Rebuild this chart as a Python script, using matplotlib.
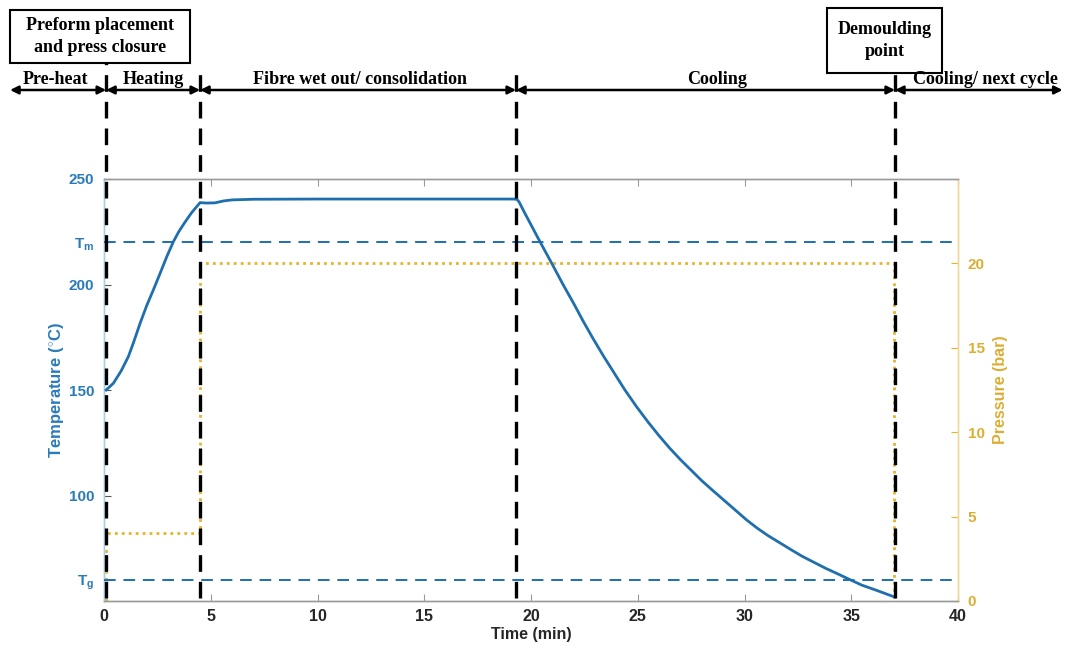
import matplotlib
matplotlib.use("Agg")
import matplotlib.pyplot as plt
import matplotlib.transforms as mtrans
from matplotlib.patches import Rectangle, FancyArrowPatch

plt.rcParams['font.family'] = ['Liberation Sans', 'DejaVu Sans']
plt.rcParams['mathtext.fontset'] = 'custom'
plt.rcParams['mathtext.rm'] = 'Liberation Sans'
plt.rcParams['mathtext.bf'] = 'Liberation Sans:bold'
plt.rcParams['mathtext.it'] = 'Liberation Sans:italic'

# ---------------- data ----------------
time_temp = [0.1, 0.44, 0.8, 1.14, 1.4, 1.69, 2.0, 2.31, 2.6, 2.94, 3.25,
             3.5, 3.79, 4.1, 4.5,
             4.8, 5.2, 5.6, 6.0, 7.0, 10.0, 14.0, 19.2, 19.35,
             19.45, 19.7, 20.0, 20.42, 21.0, 21.5, 22.0, 22.45, 22.9, 23.4,
             23.9, 24.4, 24.95, 25.5, 26.0, 26.5, 27.0, 27.5, 28.0, 28.5,
             29.0, 29.5, 30.1, 30.6, 31.1, 31.7, 32.2, 32.7, 33.2, 33.8,
             34.4, 34.9, 35.5, 36.2, 37.0]
temperature = [150, 153.2, 159, 165.8, 173, 181.6, 190, 197.4, 204.6, 213.2, 220.3,
               225, 229.5, 234, 238.8,
               238.6, 238.7, 239.6, 240.1, 240.4, 240.5, 240.5, 240.5, 240.3,
               239, 234, 228.3, 220.3, 209.5, 200, 191, 182.5, 174.5, 166,
               158, 150, 142, 134.6, 128.3, 122.4, 117, 112, 107.0, 102.5,
               98.1, 93.7, 88.4, 84.5, 81, 77.3, 74.2, 71.2, 68.6, 65.5,
               62.7, 60.3, 57.5, 55, 52]

time_pres = [0.1, 0.1, 4.5, 4.5, 37.0, 37.0]
pressure = [0, 4, 4, 20, 20, 0]

T_m = 220
T_g = 60

event_times = [0.1, 4.5, 19.3, 37.05]
phase_labels = ["Pre-heat", "Heating", "Fibre wet out/ consolidation",
                "Cooling", "Cooling/ next cycle"]
phase_label_x = [-2.3, 2.3, 12.0, 28.7, 41.3]
box_labels = ["Preform placement\nand press closure", "Demoulding\npoint"]

x_ticks = [0, 5, 10, 15, 20, 25, 30, 35, 40]
y_ticks = [T_g, 100, 150, 200, T_m, 250]
y_ticklabels = [r'$\mathbf{T_g}$', '100', '150', '200', r'$\mathbf{T_m}$', '250']
p_ticks = [0, 5, 10, 15, 20]

# ---------------- style ----------------
BLUE = '#1f6fae'
BLUE_TXT = '#2b7bb9'
YEL = '#e8b32a'
YEL_TXT = '#dcae34'
GREY = '#9a9a9a'

W, H = 1069, 651
fig = plt.figure(figsize=(W / 100, H / 100), dpi=100)

def fx(px):
    return px / W

def fy(py):
    return 1 - py / H

ax = fig.add_axes([fx(104), fy(601), fx(958) - fx(104), fy(179) - fy(601)])
ax2 = ax.twinx()

ax.plot(time_temp, temperature, color=BLUE, lw=2.0, zorder=5)
ax.axhline(T_m, color=BLUE, lw=1.4, ls=(0, (6, 4)), zorder=3)
ax.axhline(T_g, color=BLUE, lw=1.4, ls=(0, (6, 4)), zorder=3)

ax2.plot(time_pres, pressure, color=YEL, lw=2.0, ls=(0, (1, 1.5)), zorder=2)

ax.set_xlim(0, 40)
ax.set_ylim(50, 250)
ax2.set_ylim(0, 25)

ax.set_xticks(x_ticks)
ax.set_xticklabels([str(t) for t in x_ticks])
ax.set_yticks(y_ticks)
ax.set_yticklabels(y_ticklabels)
ax2.set_yticks(p_ticks)

ax.tick_params(axis='x', direction='in', top=True, length=5, width=0.8,
               color=GREY, labelsize=11.5, labelcolor='#262626', pad=6)
ax.tick_params(axis='y', direction='in', length=5, width=0.8,
               color='#555555', labelsize=11, labelcolor=BLUE_TXT, pad=7)
ax2.tick_params(axis='y', direction='in', length=5, width=0.8,
                color=YEL, labelsize=11, labelcolor=YEL_TXT, pad=7)
for lab in ax.get_xticklabels() + ax.get_yticklabels() + ax2.get_yticklabels():
    lab.set_fontweight('bold')

for a in (ax, ax2):
    a.spines['top'].set_color(GREY)
    a.spines['bottom'].set_color(GREY)
    a.spines['left'].set_color('#a8cfe8')
    a.spines['right'].set_color('#f1d89a')
    for s in a.spines.values():
        s.set_linewidth(1.0)

ax.set_xlabel('Time (min)', fontsize=11.5, fontweight='bold', color='#262626', labelpad=2)
ax.set_ylabel(r'Temperature ($^{\circ}$C)', fontsize=12, fontweight='bold',
              color=BLUE_TXT)
ax.yaxis.set_label_coords(-0.045, 0.5)
ax2.set_ylabel('Pressure (bar)', fontsize=11.5, fontweight='bold', color=YEL_TXT, labelpad=6)

ax.set_zorder(ax2.get_zorder() + 1)
ax.patch.set_visible(False)

# ------------- event lines (extend above axes) -------------
trans = mtrans.blended_transform_factory(ax.transData, ax.transAxes)
tops = [1.275, 1.27, 1.27, 1.251]
for t, top in zip(event_times, tops):
    ax.plot([t, t], [0.008, top], transform=trans, color='black', lw=2.4,
            ls=(0, (5, 3)), clip_on=False, zorder=10)

# ------------- phase arrows -------------
arrow_y = (601 - 90) / 422
bounds = [-4.4] + event_times + [44.9]
for i in range(len(bounds) - 1):
    arr = FancyArrowPatch((bounds[i], arrow_y), (bounds[i + 1], arrow_y),
                          transform=trans, arrowstyle='<|-|>', mutation_scale=12,
                          color='black', lw=1.8, shrinkA=0, shrinkB=0)
    arr.set_clip_on(False)
    ax.add_artist(arr)

text_y = (601 - 80) / 422
for lab, x in zip(phase_labels, phase_label_x):
    ax.text(x, text_y, lab, transform=trans, ha='center', va='center',
            fontsize=13, fontweight='bold', family='Liberation Serif',
            clip_on=False)

# ------------- boxes -------------
boxes = [(10, 10, 190, 63), (827, 8, 942, 73)]
for (x0, y0, x1, y1), lab in zip(boxes, box_labels):
    rect = Rectangle((fx(x0), fy(y1)), fx(x1) - fx(x0), fy(y0) - fy(y1),
                     transform=fig.transFigure, fill=False, ec='black', lw=1.5)
    fig.add_artist(rect)
    fig.text(fx((x0 + x1) / 2), fy((y0 + y1) / 2), lab, ha='center', va='center',
             fontsize=13, fontweight='bold', family='Liberation Serif',
             linespacing=1.35)

fig.savefig('out.png', dpi=100)
